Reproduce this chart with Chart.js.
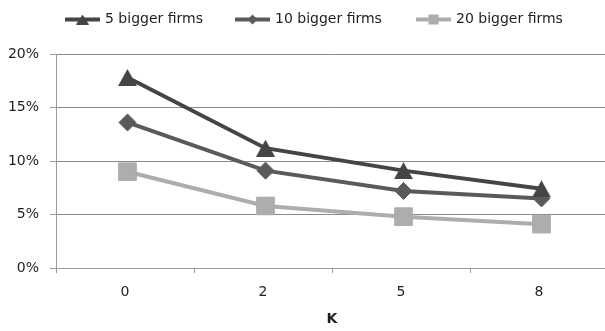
<!DOCTYPE html>
<html>
<head>
<meta charset="utf-8">
<script src="https://cdn.jsdelivr.net/npm/chart.js@4/dist/chart.umd.min.js"></script>
<style>
  html, body { margin: 0; padding: 0; overflow: hidden; background: #fff; }
  #wrap { width: 622px; height: 331px; }
</style>
</head>
<body>
<div id="wrap"><canvas id="c" width="622" height="331"></canvas></div>
<script>
// Share of the bigger firms by K
const categories = ['0', '2', '5', '8'];
const top5 = [17.8, 11.2, 9.1, 7.4];
const top10 = [13.6, 9.1, 7.2, 6.5];
const top20 = [9.0, 5.8, 4.8, 4.1];
const seriesNames = ['5 bigger firms', '10 bigger firms', '20 bigger firms'];
const yTicks = [0, 5, 10, 15, 20];

const FONT = '"DejaVu Sans", "Open Sans", sans-serif';
const TEXT = '#1e1e1e';
const C5 = '#454545', C10 = '#5a5a5a', C20 = '#adadad';

// Triangle marker whose bounding box is centred on the point
function triangleMarker(w, h, color) {
  const cv = document.createElement('canvas');
  cv.width = w; cv.height = h;
  const g = cv.getContext('2d');
  g.fillStyle = color;
  g.beginPath();
  g.moveTo(w / 2, 0);
  g.lineTo(w, h);
  g.lineTo(0, h);
  g.closePath();
  g.fill();
  return cv;
}
const triBig = triangleMarker(19, 17, C5);
const triSmall = triangleMarker(13, 10, C5);

// Legend drawn as line + marker + label along the top
const legendStarts = [65, 235, 416];
const lineLegend = {
  id: 'lineLegend',
  afterDraw(chart) {
    const ctx = chart.ctx;
    const y = 19.5;
    const lineLen = 35;
    ctx.save();
    ctx.font = '14px ' + FONT;
    ctx.textBaseline = 'middle';
    chart.data.datasets.forEach((ds, i) => {
      const x = legendStarts[i];
      ctx.strokeStyle = ds.borderColor;
      ctx.lineWidth = 4;
      ctx.beginPath();
      ctx.moveTo(x, y);
      ctx.lineTo(x + lineLen, y);
      ctx.stroke();
      const cx = x + lineLen / 2;
      ctx.fillStyle = ds.borderColor;
      if (i === 0) {
        ctx.drawImage(triSmall, cx - triSmall.width / 2, y - triSmall.height / 2);
      } else if (i === 1) {
        ctx.beginPath();
        ctx.moveTo(cx - 5, y); ctx.lineTo(cx, y - 5); ctx.lineTo(cx + 5, y); ctx.lineTo(cx, y + 5);
        ctx.closePath(); ctx.fill();
      } else {
        ctx.fillRect(cx - 5, y - 5, 10, 10);
      }
      ctx.fillStyle = TEXT;
      ctx.fillText(ds.label, x + lineLen + 5, y - 0.5);
    });
    ctx.restore();
  }
};

// Series sit slightly right of the category centre
const seriesNudge = {
  id: 'seriesNudge',
  beforeDatasetsDraw(chart) { chart.ctx.save(); chart.ctx.translate(2.5, 0); },
  afterDatasetsDraw(chart) { chart.ctx.restore(); }
};

new Chart(document.getElementById('c'), {
  type: 'line',
  data: {
    labels: categories,
    datasets: [
      { label: seriesNames[0], data: top5, borderColor: C5, backgroundColor: C5,
        borderWidth: 4, pointStyle: triBig, pointRadius: 10, pointHoverRadius: 10 },
      { label: seriesNames[1], data: top10, borderColor: C10, backgroundColor: C10,
        borderWidth: 4, pointStyle: 'rectRot', pointRadius: 8.5, pointBorderWidth: 1 },
      { label: seriesNames[2], data: top20, borderColor: C20, backgroundColor: C20,
        borderWidth: 4, pointStyle: 'rect', pointRadius: 12.5, pointBorderWidth: 1 }
    ]
  },
  options: {
    responsive: false,
    animation: false,
    devicePixelRatio: 1,
    layout: { padding: { top: 54, right: 3, left: 0, bottom: 0 } },
    plugins: { legend: { display: false }, tooltip: { enabled: false } },
    elements: { line: { tension: 0 } },
    scales: {
      x: {
        offset: true,
        afterFit(scale) { scale.height = 63; scale.paddingLeft = 0; scale.paddingRight = 0; },
        grid: { display: true, drawOnChartArea: false, offset: true, drawTicks: true,
                tickLength: 5, tickColor: '#9a9a9a', tickWidth: 1 },
        border: { display: true, color: '#9a9a9a', width: 1 },
        ticks: { font: { family: FONT, size: 14 }, color: TEXT, padding: 11 },
        title: { display: true, text: 'K', font: { family: FONT, size: 14, weight: 'bold' },
                 color: TEXT, padding: { top: 11, bottom: 3 } }
      },
      y: {
        min: 0, max: 20,
        afterBuildTicks(scale) { scale.ticks = yTicks.map(v => ({ value: v })); },
        afterFit(scale) { scale.width = 56; },
        grid: { color: '#8a8a8a', lineWidth: 1, borderDash: [3, 2], drawTicks: true,
                tickLength: 6, tickColor: '#9a9a9a', tickBorderDash: [], tickWidth: 1 },
        border: { display: true, color: '#9a9a9a', width: 1 },
        ticks: { font: { family: FONT, size: 14 }, color: TEXT, padding: 11,
                 callback: v => v + '%' }
      }
    }
  },
  plugins: [seriesNudge, lineLegend]
});
</script>
</body>
</html>
